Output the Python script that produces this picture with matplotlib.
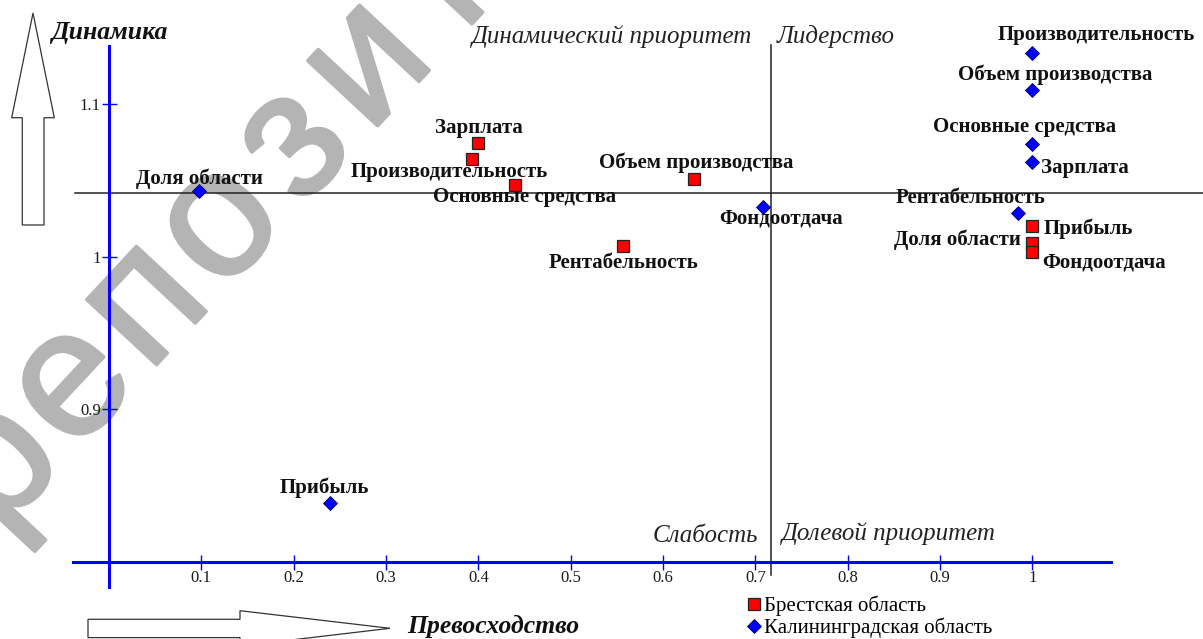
import matplotlib
matplotlib.use("Agg")
import matplotlib.pyplot as plt
from matplotlib.patches import Polygon
import matplotlib.patheffects as pe

# ---------------- data ----------------
indicators_brest = ["Зарплата", "Производительность", "Основные средства",
                    "Объем производства", "Рентабельность", "Прибыль",
                    "Доля области", "Фондоотдача"]
brest_x = [0.400, 0.393, 0.440, 0.634, 0.557, 1.000, 1.000, 1.000]
brest_y = [1.075, 1.064, 1.047, 1.051, 1.007, 1.020, 1.009, 1.003]

indicators_kal = ["Доля области", "Прибыль", "Фондоотдача", "Производительность",
                  "Объем производства", "Основные средства", "Зарплата",
                  "Рентабельность"]
kal_x = [0.098, 0.239, 0.708, 1.000, 1.000, 1.000, 1.000, 0.984]
kal_y = [1.0435, 0.839, 1.033, 1.134, 1.1095, 1.074, 1.062, 1.029]

x_ticks = [0.1, 0.2, 0.3, 0.4, 0.5, 0.6, 0.7, 0.8, 0.9, 1.0]
x_tick_labels = ["0.1", "0.2", "0.3", "0.4", "0.5", "0.6", "0.7", "0.8", "0.9", "1"]
y_ticks = [0.9, 1.0, 1.1]
y_tick_labels = ["0.9", "1", "1.1"]

x_threshold = 0.717
y_threshold = 1.0418

series_names = ["Брестская область", "Калининградская область"]
quadrant_labels = ["Динамический приоритет", "Лидерство", "Слабость", "Долевой приоритет"]
axis_titles = ["Динамика", "Превосходство"]
watermark = "репозиторий"

# ---------------- layout / style ----------------
W, H = 1203, 639
fig = plt.figure(figsize=(W / 100, H / 100), dpi=100)
ax = fig.add_axes([0, 0, 1, 1])
ax.set_facecolor("none")
ax.set_xlim(-0.1180, 1.1848)
ax.set_ylim(0.74951, 1.16852)

SERIF = ["Liberation Serif", "DejaVu Serif"]

def figpx(x, y):
    return (x / W, 1 - y / H)

# watermark letters (behind everything)
wm_start = (-1.0, 466.0)
wm_step = (74.0, -80.0)
for i, ch in enumerate(watermark):
    cx = wm_start[0] + i * wm_step[0]
    cy = wm_start[1] + i * wm_step[1]
    fig.text(*figpx(cx, cy), ch, fontsize=130, family=["Liberation Sans", "DejaVu Sans"],
             color="#b4b4b4", rotation=47, rotation_mode="anchor",
             ha="center", va="center", zorder=-5,
             path_effects=[pe.withStroke(linewidth=2.5, foreground="#b4b4b4")])

# axes spines as the blue cross
for s in ["top", "right"]:
    ax.spines[s].set_visible(False)
ax.spines["left"].set_position(("data", 0))
ax.spines["bottom"].set_position(("data", 0.8))
ax.spines["left"].set_bounds(0.7836, 1.1384)
ax.spines["bottom"].set_bounds(-0.0389, 1.0852)
for s in ["left", "bottom"]:
    ax.spines[s].set_color("#0000ff")
    ax.spines[s].set_linewidth(2.2)
    ax.spines[s].set_zorder(2)

ax.set_xticks(x_ticks)
ax.set_xticklabels(x_tick_labels)
ax.set_yticks(y_ticks)
ax.set_yticklabels(y_tick_labels)
ax.tick_params(direction="inout", length=10.8, width=1.0, color="#0000ff",
               labelsize=12, pad=0.5, labelcolor="#1a1a1a")
for lab in ax.get_xticklabels() + ax.get_yticklabels():
    lab.set_family(SERIF)

# quadrant lines
ax.plot([x_threshold, x_threshold], [0.7915, 1.139], color="#222222", lw=1.1, zorder=1)
ax.plot([-0.0368, 1.1848], [y_threshold, y_threshold], color="#222222", lw=1.1, zorder=1)

# series
ax.plot(brest_x, brest_y, ls="none", marker="s", ms=9.3, mfc="#ff0000",
        mec="#222222", mew=0.9, zorder=4, label=series_names[0])
ax.plot(kal_x, kal_y, ls="none", marker="D", ms=7.4, mfc="#0000ff",
        mec="#000066", mew=0.6, zorder=4, label=series_names[1])

# point labels: (dx, dy) in pixels, horizontal alignment
brest_lab_pos = [(1, 15, "center"), (-23, -13, "center"), (9, -12, "center"),
                 (2, 16, "center"), (0, -17, "center"), (11, -2, "left"),
                 (-11, 4, "right"), (10, -10, "left")]
kal_lab_pos = [(0, 12, "center"), (-5, 15, "center"), (18, -12, "center"),
               (64, 18, "center"), (23, 15, "center"), (-8, 17, "center"),
               (9, -6, "left"), (-47, 15, "center")]

label_kw = dict(textcoords="offset points", fontsize=15, fontweight="bold",
                family=SERIF, color="#111111", va="center", zorder=5)
for name, x, y, (dx, dy, ha) in zip(indicators_brest, brest_x, brest_y, brest_lab_pos):
    ax.annotate(name, (x, y), xytext=(dx * 0.72, dy * 0.72), ha=ha, **label_kw)
for name, x, y, (dx, dy, ha) in zip(indicators_kal, kal_x, kal_y, kal_lab_pos):
    ax.annotate(name, (x, y), xytext=(dx * 0.72, dy * 0.72), ha=ha, **label_kw)

# quadrant captions
qpos = [(472, 37, "left"), (777, 37, "left"), (758, 536, "right"), (782, 534, "left")]
for txt, (x, y, ha) in zip(quadrant_labels, qpos):
    fig.text(*figpx(x, y), txt, fontsize=18, style="italic", family=SERIF,
             color="#222222", ha=ha, va="center", zorder=5)

# axis titles
fig.text(*figpx(52, 32), axis_titles[0], fontsize=18.5, style="italic",
         fontweight="bold", family=SERIF, color="#111111", ha="left", va="center")
fig.text(*figpx(407, 626), axis_titles[1], fontsize=18.5, style="italic",
         fontweight="bold", family=SERIF, color="#111111", ha="left", va="center")

# hollow arrows
up_arrow = [(33, 13), (54.3, 117.7), (44, 117.7), (44, 225), (22.3, 225),
            (22.3, 117.7), (11.7, 117.7)]
right_arrow = [(88, 619.3), (240, 619.3), (240, 610.7), (390, 628.3),
               (240, 646), (240, 637.6), (88, 637.6)]
for verts in (up_arrow, right_arrow):
    fig.patches.append(Polygon([figpx(x, y) for x, y in verts], closed=True,
                               transform=fig.transFigure, facecolor="white",
                               edgecolor="#333333", lw=0.9, zorder=3))

# legend
leg = ax.legend(loc="upper left", bbox_to_anchor=figpx(746, 596), frameon=False,
                prop={"family": SERIF, "size": 15}, handlelength=0.75,
                handletextpad=0.12, borderpad=0, labelspacing=0.05,
                borderaxespad=0, markerscale=1.0)

fig.savefig("out.png", dpi=100)
